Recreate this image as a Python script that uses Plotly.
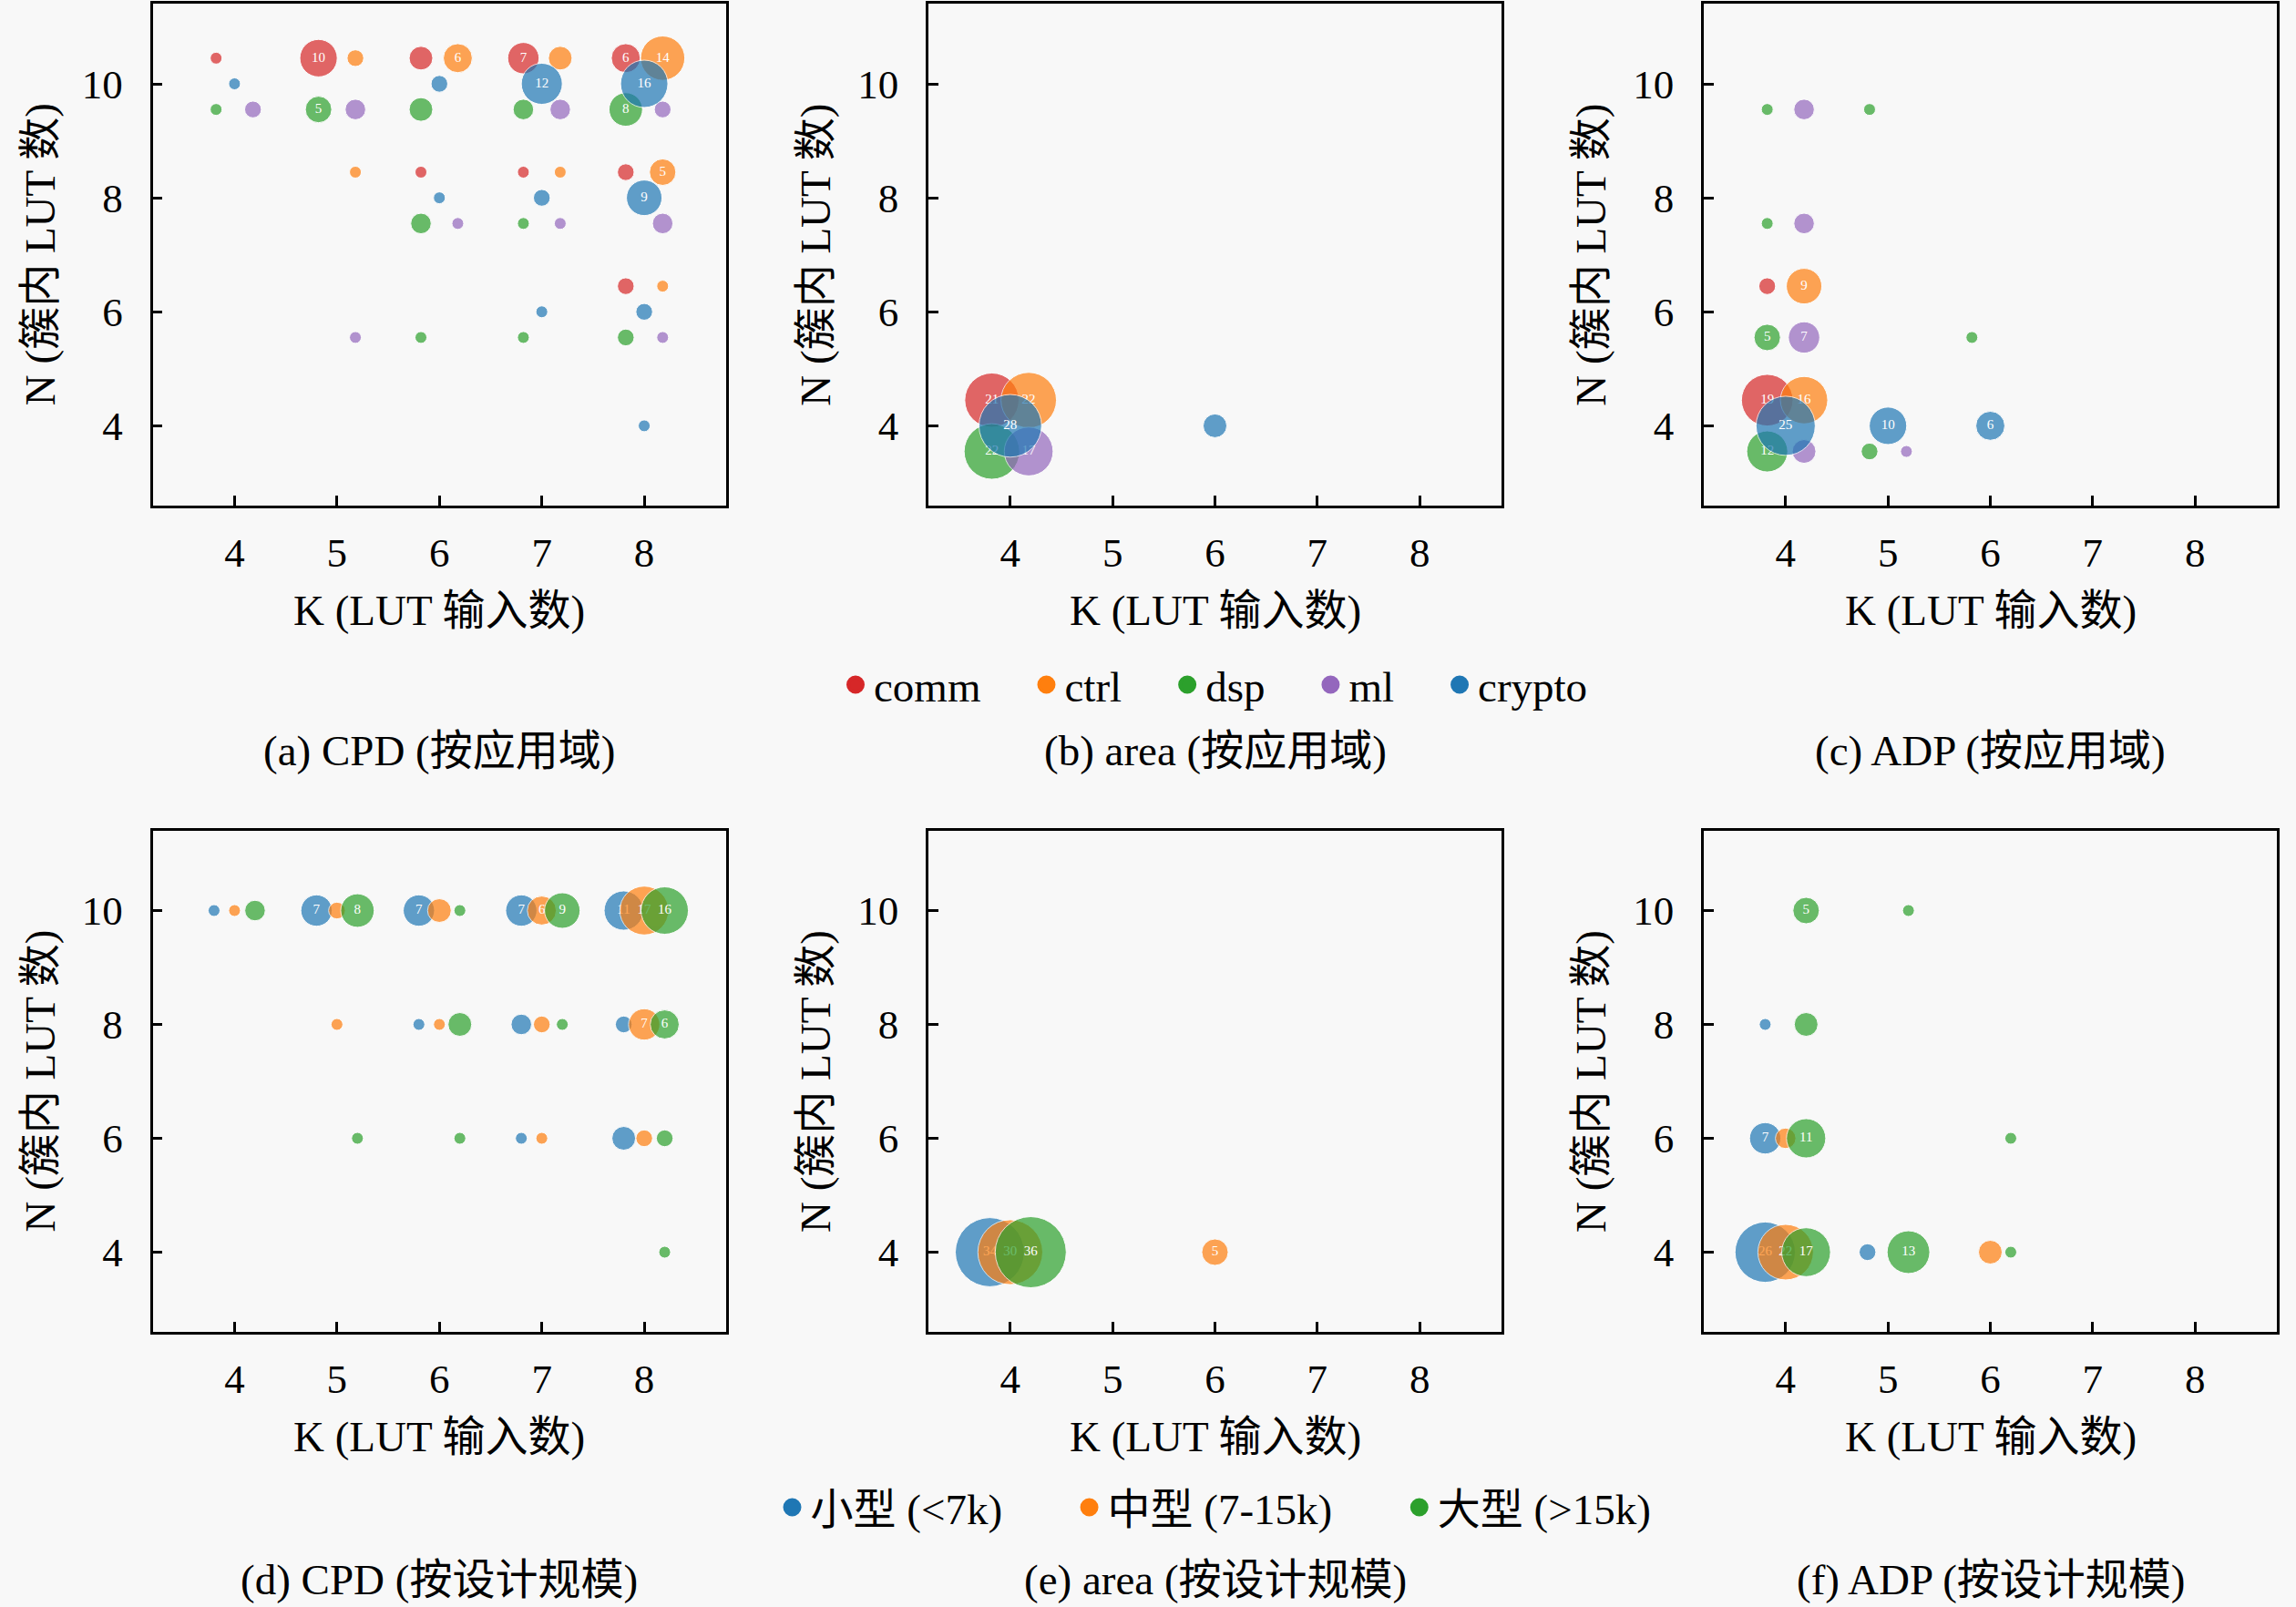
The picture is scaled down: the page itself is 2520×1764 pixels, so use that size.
import plotly.graph_objects as go

# every bubble is (K, N, count): count = designs whose best (K, N) lands there
# (a) CPD, by application domain
cpd_comm = [(4, 10, 1), (5, 10, 10), (6, 10, 4), (7, 10, 7), (8, 10, 6), (6, 8, 1), (7, 8, 1), (8, 8, 2), (8, 6, 2)]
cpd_ctrl = [(5, 10, 2), (6, 10, 6), (7, 10, 4), (8, 10, 14), (5, 8, 1), (7, 8, 1), (8, 8, 5), (8, 6, 1)]
cpd_dsp = [(4, 10, 1), (5, 10, 5), (6, 10, 4), (7, 10, 3), (8, 10, 8), (6, 8, 3), (7, 8, 1), (6, 6, 1), (7, 6, 1), (8, 6, 2)]
cpd_ml = [(4, 10, 2), (5, 10, 3), (7, 10, 3), (8, 10, 2), (6, 8, 1), (7, 8, 1), (8, 8, 3), (5, 6, 1), (8, 6, 1)]
cpd_crypto = [(4, 10, 1), (6, 10, 2), (7, 10, 12), (8, 10, 16), (6, 8, 1), (7, 8, 2), (8, 8, 9), (7, 6, 1), (8, 6, 2), (8, 4, 1)]

# (b) area, by application domain
area_comm = [(4, 4, 21)]
area_ctrl = [(4, 4, 22)]
area_dsp = [(4, 4, 22)]
area_ml = [(4, 4, 17)]
area_crypto = [(4, 4, 28), (6, 4, 4)]

# (c) ADP, by application domain
adp_comm = [(4, 6, 2), (4, 4, 19)]
adp_ctrl = [(4, 6, 9), (4, 4, 16)]
adp_dsp = [(4, 10, 1), (5, 10, 1), (4, 8, 1), (4, 6, 5), (6, 6, 1), (4, 4, 12), (5, 4, 2)]
adp_ml = [(4, 10, 3), (4, 8, 3), (4, 6, 7), (4, 4, 4), (5, 4, 1)]
adp_crypto = [(4, 4, 25), (5, 4, 10), (6, 4, 6)]

# (d) CPD, by design size
cpd_small = [(4, 10, 1), (5, 10, 7), (6, 10, 7), (7, 10, 7), (8, 10, 11), (6, 8, 1), (7, 8, 3), (8, 8, 2), (7, 6, 1), (8, 6, 4)]
cpd_medium = [(4, 10, 1), (5, 10, 2), (6, 10, 4), (7, 10, 6), (8, 10, 17), (5, 8, 1), (6, 8, 1), (7, 8, 2), (8, 8, 7), (7, 6, 1), (8, 6, 2)]
cpd_large = [(4, 10, 3), (5, 10, 8), (6, 10, 1), (7, 10, 9), (8, 10, 16), (6, 8, 4), (7, 8, 1), (8, 8, 6), (5, 6, 1), (6, 6, 1), (8, 6, 2), (8, 4, 1)]

# (e) area, by design size
area_small = [(4, 4, 34)]
area_medium = [(4, 4, 30), (6, 4, 5)]
area_large = [(4, 4, 36)]

# (f) ADP, by design size
adp_small = [(4, 8, 1), (4, 6, 7), (4, 4, 26), (5, 4, 2)]
adp_medium = [(4, 6, 3), (4, 4, 22), (6, 4, 4)]
adp_large = [(4, 10, 5), (5, 10, 1), (4, 8, 4), (4, 6, 11), (6, 6, 1), (4, 4, 17), (5, 4, 13), (6, 4, 1)]

domain_names = ["comm", "ctrl", "dsp", "ml", "crypto"]
size_names = ["小型 (&lt;7k)", "中型 (7-15k)", "大型 (&gt;15k)"]
k_ticks = [4, 5, 6, 7, 8]
n_ticks = [4, 6, 8, 10]
captions = ["(a) CPD (按应用域)", "(b) area (按应用域)", "(c) ADP (按应用域)",
            "(d) CPD (按设计规模)", "(e) area (按设计规模)", "(f) ADP (按设计规模)"]

domain_panels = [
    [cpd_comm, cpd_ctrl, cpd_dsp, cpd_ml, cpd_crypto],
    [area_comm, area_ctrl, area_dsp, area_ml, area_crypto],
    [adp_comm, adp_ctrl, adp_dsp, adp_ml, adp_crypto],
]
size_panels = [
    [cpd_small, cpd_medium, cpd_large],
    [area_small, area_medium, area_large],
    [adp_small, adp_medium, adp_large],
]

# styling
W, H = 2520, 1764
BG = "#f8f8f8"
FONT = "Liberation Serif, Noto Sans CJK SC, serif"
domain_colors = ["#d62728", "#ff7f0e", "#2ca02c", "#9467bd", "#1f77b4"]
domain_dx = [-0.18, 0.18, -0.18, 0.18, 0.0]
domain_dy = [0.45, 0.45, -0.45, -0.45, 0.0]
size_colors = ["#1f77b4", "#ff7f0e", "#2ca02c"]
size_dx = [-0.2, 0.0, 0.2]
SIZEREF = 2.0 / 13 ** 2     # diameter = 13 px * sqrt(count)
LABEL_MIN = 5
NB = "\u00a0"

col_px = [(167.5, 797), (1019, 1648), (1870, 2499)]
row_px = [(4.4, 555), (912, 1462)]


def bubbles(points, name, color, dx, dy, axno):
    ks, ns, cs = zip(*points)
    sfx = "" if axno == 1 else str(axno)
    return go.Scatter(
        x=[k + dx for k in ks], y=[n + dy for n in ns],
        mode="markers+text",
        text=[str(c) if c >= LABEL_MIN else "" for c in cs],
        textposition="middle center",
        textfont=dict(family=FONT, size=15, color="white"),
        marker=dict(size=list(cs), sizemode="area", sizeref=SIZEREF, color=color,
                    opacity=0.7, line=dict(color="white", width=1)),
        name=name, showlegend=False, customdata=list(cs),
        hovertemplate=name + "<br>K=%{x:.0f}, N=%{y:.0f}, n=%{customdata}<extra></extra>",
        xaxis="x" + sfx, yaxis="y" + sfx,
    )


fig = go.Figure()
for col in range(3):
    for g, pts in enumerate(domain_panels[col]):
        fig.add_trace(bubbles(pts, domain_names[g], domain_colors[g], domain_dx[g], domain_dy[g], col + 1))
    for g, pts in enumerate(size_panels[col]):
        fig.add_trace(bubbles(pts, size_names[g], size_colors[g], size_dx[g], 0.0, col + 4))

# legend-only entries (solid markers); trailing nbsp widens the gap between items
legend_marker = lambda color: dict(size=30, color=color, line=dict(color=color, width=4))
for i, (name, color) in enumerate(zip(domain_names, domain_colors)):
    pad = "" if i == len(domain_names) - 1 else NB * 4
    fig.add_trace(go.Scatter(x=[None], y=[None], mode="markers", name=name + pad,
                             marker=legend_marker(color), legend="legend"))
for i, (name, color) in enumerate(zip(size_names, size_colors)):
    pad = "" if i == len(size_names) - 1 else NB * 6
    fig.add_trace(go.Scatter(x=[None], y=[None], mode="markers", name=name + pad,
                             marker=legend_marker(color), legend="legend2"))

axis_style = dict(showline=True, linecolor="black", linewidth=2.5, mirror=True,
                  ticks="inside", ticklen=11, tickwidth=2.5, tickcolor="black",
                  showgrid=False, zeroline=False,
                  tickfont=dict(family=FONT, size=45, color="black"))

layout = {}
annotations = []
txt = dict(family=FONT, size=47, color="black")
for r in range(2):
    top, bot = row_px[r]
    for c in range(3):
        left, right = col_px[c]
        n = r * 3 + c + 1
        sfx = "" if n == 1 else str(n)
        layout["xaxis" + sfx] = dict(axis_style, domain=[left / W, right / W], anchor="y" + sfx,
                                     range=[3.2, 8.8], tickvals=k_ticks, ticklabelstandoff=10)
        layout["yaxis" + sfx] = dict(axis_style, domain=[1 - bot / H, 1 - top / H], anchor="x" + sfx,
                                     range=[2.6, 11.4], tickvals=n_ticks, ticklabelstandoff=21)
        cx = (left + right) / 2 / W
        annotations.append(dict(text="N (簇内 LUT 数)", textangle=-90, xref="paper", yref="paper",
                                x=(left - 124) / W, y=1 - (top + bot) / 2 / H,
                                xanchor="center", yanchor="middle", showarrow=False, font=txt))
        annotations.append(dict(text="K (LUT 输入数)", xref="paper", yref="paper",
                                x=cx, y=1 - [670, 1577][r] / H,
                                xanchor="center", yanchor="middle", showarrow=False, font=txt))
        annotations.append(dict(text=captions[n - 1], xref="paper", yref="paper",
                                x=cx, y=1 - [824, 1734][r] / H,
                                xanchor="center", yanchor="middle", showarrow=False, font=txt))

legend_style = dict(orientation="h", xanchor="center", yanchor="middle", x=1333.5 / W,
                    bgcolor="rgba(0,0,0,0)", font=txt)

fig.update_layout(
    **layout,
    width=W, height=H,
    margin=dict(l=0, r=0, t=0, b=0),
    paper_bgcolor=BG, plot_bgcolor=BG,
    annotations=annotations,
    legend=dict(legend_style, y=1 - 752 / H),
    legend2=dict(legend_style, y=1 - 1655 / H),
)

fig.write_html("out.html", config={"displayModeBar": False},
               post_script="document.body.style.margin='0';")
